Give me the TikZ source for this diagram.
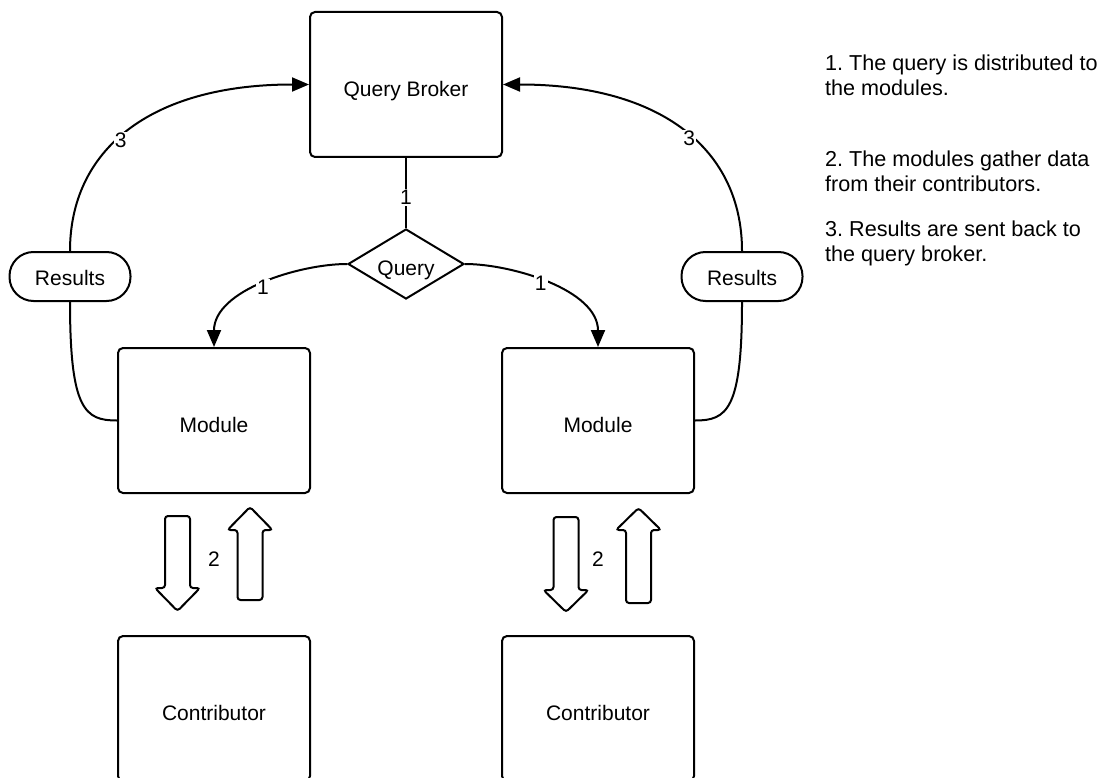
\documentclass[tikz,border=0pt]{standalone}
\usepackage{fontspec}
\setmainfont{Liberation Sans}
\usetikzlibrary{shapes.geometric,arrows.meta}

\tikzset{
  base/.style={font=\fontsize{21}{25.5}\selectfont\frenchspacing, text=black},
  box/.style={base, draw, line width=2pt, rounded corners=5pt,
              minimum width=192pt, minimum height=145pt, inner sep=0pt,
              text height=24pt, text depth=0pt},
  pill/.style={base, draw, line width=2pt, rounded corners=24pt,
               minimum width=121pt, minimum height=49pt, inner sep=0pt,
               text height=17pt, text depth=0pt},
  decision/.style={base, draw, diamond, line width=2pt, aspect=1.657,
                   minimum width=116pt, minimum height=70pt, inner sep=0pt,
                   text height=22pt, text depth=0pt},
  link/.style={line width=2pt, draw=black},
  tolink/.style={link, -{Triangle[length=17pt,width=14pt]}},
  num/.style={base, fill=white, inner sep=1pt, yshift=-3pt},
  note/.style={base, font=\fontsize{21.6}{24.5}\selectfont\frenchspacing,
               align=left, anchor=north west, inner sep=0pt},
  fat/.style={line width=2pt, rounded corners=3pt, fill=white, draw=black}
}

\begin{document}
\begin{tikzpicture}[x=1pt,y=-1pt]
\useasboundingbox (0,0) rectangle (1107,778);
\clip (0,0) rectangle (1107,778);

% broker, query and the two branches
\node[box] (broker) at (406,84.5) {Query Broker};
\node[decision] (query) at (406,264) {Query};
\node[box] (modL) at (214,420.5) {Module};
\node[box] (modR) at (598,420.5) {Module};
\node[box] (conL) at (214,708.5) {Contributor};
\node[box] (conR) at (598,708.5) {Contributor};
\node[pill] (resL) at (70,276.5) {Results};
\node[pill] (resR) at (742,276.5) {Results};

% step 1: distribute the query
\draw[link] (broker.south) -- node[num, pos=0.52] {1} (query.north);
\draw[tolink] (query.west) .. controls (300,264) and (214,290) .. node[num, pos=0.5] {1} (modL.north);
\draw[tolink] (query.east) .. controls (512,264) and (598,290) .. node[num, pos=0.45] {1} (modR.north);

% step 3: results back to the broker
\draw[link] (modL.west) .. controls (85,420.5) and (70,410) .. (resL.south);
\draw[link] (modR.east) .. controls (727,420.5) and (742,410) .. (resR.south);
\draw[tolink] (resL.north) .. controls (70,150) and (150,84.5) .. node[num, pos=0.46] {3} (broker.west);
\draw[tolink] (resR.north) .. controls (742,150) and (662,84.5) .. node[num, pos=0.47] {3} (broker.east);

% step 2: exchange between modules and contributors
\draw[fat] (165,516) -- (190,516) -- (190,588) -- (200,588) -- (177.5,611) -- (155,588) -- (165,588) -- cycle;
\draw[fat] (237.5,600) -- (262.5,600) -- (262.5,530) -- (272.5,530) -- (250,507) -- (227.5,530) -- (237.5,530) -- cycle;
\node[base] (twoL) at (214,559) {2};

\draw[fat] (553.5,517) -- (578.5,517) -- (578.5,590) -- (588.5,590) -- (566,612) -- (543.5,590) -- (553.5,590) -- cycle;
\draw[fat] (626,603) -- (651,603) -- (651,530) -- (661,530) -- (638.5,508) -- (616,530) -- (626,530) -- cycle;
\node[base] (twoR) at (598,559) {2};

% legend
\node[note] (n1) at (825,55) {1. The query is distributed to\\the modules.};
\node[note] (n2) at (825,151) {2. The modules gather data\\from their contributors.};
\node[note] (n3) at (825,221) {3. Results are sent back to\\the query broker.};
\end{tikzpicture}
\end{document}
